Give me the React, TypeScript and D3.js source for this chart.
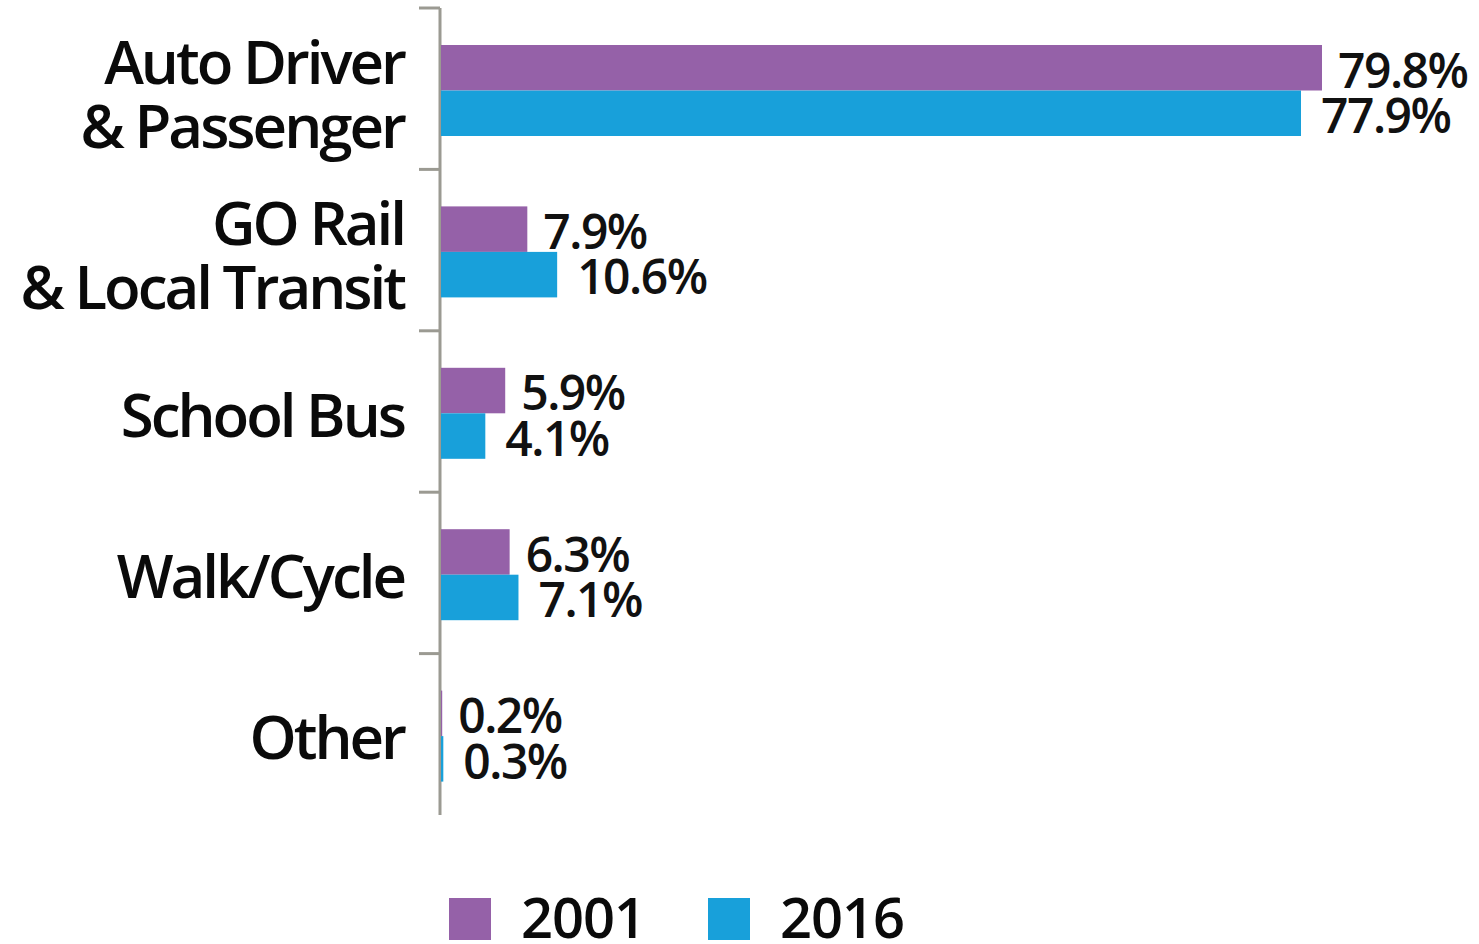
import * as d3 from "d3";
import { useEffect, useRef } from "react";

const categories = ["Auto Driver\n& Passenger", "GO Rail\n& Local Transit", "School Bus", "Walk/Cycle", "Other"];
const years = ["2001", "2016"];
const values2001 = [79.8, 7.9, 5.9, 6.3, 0.2];
const values2016 = [77.9, 10.6, 4.1, 7.1, 0.3];
const colors = ["#9561a8", "#18a0da"];

const W = 1479;
const H = 944;
const FONT = "'Open Sans', 'Noto Sans', sans-serif";

export default function App() {
  const ref = useRef<SVGSVGElement | null>(null);

  useEffect(() => {
    if (!ref.current) return;
    const svg = d3.select(ref.current);
    svg.selectAll("*").remove();

    const axisX = 440;
    const y = d3.scaleBand().domain(categories).range([8, 815]).padding(0);
    const inner = d3.scaleBand().domain(years).range([37, 128]).padding(0);
    const x = d3.scaleLinear().domain([0, 79.8]).range([axisX, 1322]);

    const rows = categories.map((c, i) => ({ c, vals: [values2001[i], values2016[i]] }));

    // axis line + ticks at band boundaries
    const axis = svg.append("g").attr("stroke", "#9b9a92").attr("stroke-width", 3);
    axis.append("line").attr("x1", axisX).attr("x2", axisX).attr("y1", y.range()[0]).attr("y2", y.range()[1]);
    const bounds = categories.map((c) => y(c)!);
    axis
      .selectAll("line.tick")
      .data(bounds)
      .join("line")
      .attr("class", "tick")
      .attr("x1", 419)
      .attr("x2", axisX)
      .attr("y1", (d) => d)
      .attr("y2", (d) => d);

    // bars
    const groups = svg
      .selectAll("g.row")
      .data(rows)
      .join("g")
      .attr("class", "row")
      .attr("transform", (d) => `translate(0,${y(d.c)})`);

    groups
      .selectAll("rect")
      .data((d) => d.vals.map((v, j) => ({ v, j })))
      .join("rect")
      .attr("x", axisX + 1)
      .attr("y", (d) => inner(years[d.j])!)
      .attr("width", (d) => x(d.v) - axisX - 1)
      .attr("height", inner.bandwidth())
      .attr("fill", (d) => colors[d.j]);

    groups
      .selectAll("text.val")
      .data((d) => d.vals.map((v, j) => ({ v, j })))
      .join("text")
      .attr("class", "val")
      .attr("x", (d) => x(d.v) + (d.j === 0 ? 16 : 20))
      .attr("y", (d) => inner(years[d.j])! + inner.bandwidth() - 3)
      .attr("font-family", FONT)
      .attr("font-size", 48)
      .attr("font-weight", 600)
      .attr("letter-spacing", -1.5)
      .attr("fill", "#111")
      .text((d) => `${d.v.toFixed(1)}%`);

    // category labels
    const labels = svg
      .selectAll("text.cat")
      .data(categories)
      .join("text")
      .attr("class", "cat")
      .attr("text-anchor", "end")
      .attr("font-family", FONT)
      .attr("font-size", 60)
      .attr("font-weight", 600)
      .attr("letter-spacing", -3)
      .attr("fill", "#0a0a0a");
    labels.each(function (c) {
      const lines = c.split("\n");
      const cy = y(c)! + y.bandwidth() / 2;
      const t = d3.select(this);
      const start = lines.length === 1 ? cy + 25 : cy - 5;
      lines.forEach((ln, k) => {
        t.append("tspan")
          .attr("x", 404)
          .attr("y", start + k * 64)
          .text(ln);
      });
    });

    // legend
    const legendX = [449, 708];
    const lg = svg
      .selectAll("g.leg")
      .data(years)
      .join("g")
      .attr("class", "leg")
      .attr("transform", (_, i) => `translate(${legendX[i]},898)`);
    lg.append("rect").attr("width", 42).attr("height", 42).attr("fill", (_, i) => colors[i]);
    lg.append("text")
      .attr("x", 72)
      .attr("y", 40)
      .attr("font-family", FONT)
      .attr("font-size", 56)
      .attr("font-weight", 600)
      .attr("letter-spacing", -1)
      .attr("fill", "#0a0a0a")
      .text((d) => d);
  }, []);

  return (
    <svg
      ref={ref}
      width={W}
      height={H}
      style={{ position: "absolute", left: 0, top: 0, background: "#fff" }}
    ></svg>
  );
}
